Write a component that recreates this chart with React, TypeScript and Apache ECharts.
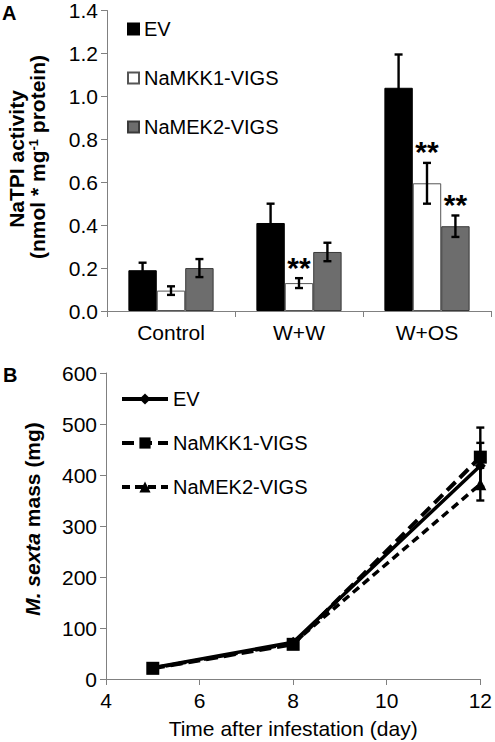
import React, { useEffect, useRef } from "react";
import * as echarts from "echarts";

// ---- Panel A data ----
const treatments = ["Control", "W+W", "W+OS"];
const barNames = ["EV", "NaMKK1-VIGS", "NaMEK2-VIGS"];
const evActivity = [0.19, 0.41, 1.04];
const evActivityErr = [0.035, 0.09, 0.155];
const mkk1Activity = [0.095, 0.13, 0.595];
const mkk1ActivityErr = [0.02, 0.023, 0.095];
const mek2Activity = [0.2, 0.275, 0.395];
const mek2ActivityErr = [0.042, 0.043, 0.05];
const mkk1Sig = ["", "**", "**"];
const mek2Sig = ["", "", "**"];
const evSig = ["", "", ""];

// ---- Panel B data ----
const days = [5, 8, 12];
const evMass = [22, 72, 418];
const evMassErr = [3, 6, 45];
const mkk1Mass = [21, 68, 435];
const mkk1MassErr = [3, 6, 58];
const mek2Mass = [21, 70, 382];
const mek2MassErr = [3, 6, 32];
const lineNames = ["EV", "NaMKK1-VIGS", "NaMEK2-VIGS"];
const lineIds = ["massEV", "massMKK1", "massMEK2"];

const FONT = "'Liberation Sans', Arial, sans-serif";
const AXIS_COLOR = "#808080";
const BAR_FRAC = 0.222;

export default function App() {
  const ref = useRef<HTMLDivElement>(null);
  useEffect(() => {
    if (!ref.current) return;
    const chart = echarts.init(ref.current, undefined, { renderer: "svg" });

    const barErr = (idx: number, means: number[], errs: number[], sig: string[]) => ({
      type: "custom",
      xAxisIndex: 0,
      yAxisIndex: 0,
      z: 10,
      silent: true,
      data: means.map((m, i) => [i, m, errs[i]]),
      encode: { x: 0, y: 1 },
      renderItem: (params: any, api: any) => {
        const i = api.value(0);
        const m = api.value(1);
        const e = api.value(2);
        const top = api.coord([i, m + e]);
        const bot = api.coord([i, m - e]);
        const band = api.size([1, 0])[0];
        const x = top[0] + (idx - 1) * band * BAR_FRAC;
        const st = { stroke: "#000", lineWidth: 2.4 };
        const children: any[] = [
          { type: "line", shape: { x1: x, y1: top[1], x2: x, y2: bot[1] }, style: st },
          { type: "line", shape: { x1: x - 4, y1: top[1], x2: x + 4, y2: top[1] }, style: st },
          { type: "line", shape: { x1: x - 4, y1: bot[1], x2: x + 4, y2: bot[1] }, style: st },
        ];
        const s = sig[params.dataIndex];
        if (s) {
          children.push({
            type: "text",
            x,
            y: top[1] - 11,
            style: {
              text: s,
              fontSize: 30,
              fontWeight: "bold",
              fontFamily: FONT,
              fill: "#000",
              align: "center",
              verticalAlign: "middle",
            },
          });
        }
        return { type: "group", children };
      },
    });

    const lineErr = (means: number[], errs: number[]) => ({
      type: "custom",
      xAxisIndex: 1,
      yAxisIndex: 1,
      z: 10,
      silent: true,
      data: means.map((m, i) => [days[i], m, errs[i]]),
      encode: { x: 0, y: 1 },
      renderItem: (params: any, api: any) => {
        const d = api.value(0);
        const m = api.value(1);
        const e = api.value(2);
        const top = api.coord([d, m + e]);
        const bot = api.coord([d, m - e]);
        const x = top[0];
        const st = { stroke: "#000", lineWidth: 2.4 };
        return {
          type: "group",
          children: [
            { type: "line", shape: { x1: x, y1: top[1], x2: x, y2: bot[1] }, style: st },
            { type: "line", shape: { x1: x - 4, y1: top[1], x2: x + 4, y2: top[1] }, style: st },
            { type: "line", shape: { x1: x - 4, y1: bot[1], x2: x + 4, y2: bot[1] }, style: st },
          ],
        };
      },
    });

    const axisLine = { lineStyle: { color: AXIS_COLOR, width: 1 } };
    const axisTick = { show: true, length: 6, lineStyle: { color: AXIS_COLOR, width: 1 } };
    const label = { color: "#000", fontSize: 21, fontFamily: FONT };

    const nameMap: Record<string, string> = {};
    lineIds.forEach((id, i) => (nameMap[id] = lineNames[i]));

    const option: any = {
      animation: false,
      textStyle: { fontFamily: FONT },
      grid: [
        { left: 107, top: 7, width: 384, height: 304 },
        { left: 106, top: 373, width: 378, height: 306 },
      ],
      xAxis: [
        {
          type: "category",
          gridIndex: 0,
          data: treatments,
          axisLine,
          axisTick,
          axisLabel: { ...label, margin: 11 },
          splitLine: { show: false },
        },
        {
          type: "value",
          gridIndex: 1,
          min: 4,
          max: 12,
          interval: 2,
          axisLine: { show: true, ...axisLine },
          axisTick,
          axisLabel: { ...label, margin: 11 },
          splitLine: { show: false },
          name: "Time after infestation (day)",
          nameLocation: "middle",
          nameGap: 39,
          nameTextStyle: { color: "#000", fontSize: 21, fontFamily: FONT, verticalAlign: "top" },
        },
      ],
      yAxis: [
        {
          type: "value",
          gridIndex: 0,
          min: 0,
          max: 1.4,
          interval: 0.2,
          axisLine: { show: true, ...axisLine },
          axisTick,
          axisLabel: { ...label, margin: 9, formatter: (v: number) => v.toFixed(1) },
          splitLine: { show: false },
        },
        {
          type: "value",
          gridIndex: 1,
          min: 0,
          max: 600,
          interval: 100,
          axisLine: { show: true, ...axisLine },
          axisTick,
          axisLabel: { ...label, margin: 9 },
          splitLine: { show: false },
        },
      ],
      legend: [
        {
          data: barNames,
          orient: "vertical",
          left: 127,
          top: 19,
          padding: 0,
          itemWidth: 11,
          itemHeight: 11,
          itemGap: 29,
          icon: "rect",
          textStyle: { color: "#000", fontSize: 20, lineHeight: 16, fontFamily: FONT },
          selectedMode: false,
        },
        {
          data: lineIds,
          orient: "vertical",
          left: 120,
          top: 389,
          padding: 0,
          itemWidth: 46,
          itemHeight: 14,
          itemGap: 24,
          formatter: (n: string) => nameMap[n] || n,
          lineStyle: { width: 4 },
          textStyle: { color: "#000", fontSize: 20, lineHeight: 16, fontFamily: FONT },
          selectedMode: false,
        },
      ],
      graphic: [
        {
          type: "text",
          left: 2,
          top: 3,
          style: { text: "A", fontSize: 20, fontWeight: "bold", fontFamily: FONT, fill: "#000" },
        },
        {
          type: "text",
          left: 3,
          top: 365,
          style: { text: "B", fontSize: 20, fontWeight: "bold", fontFamily: FONT, fill: "#000" },
        },
        {
          type: "text",
          x: 16,
          y: 159,
          rotation: Math.PI / 2,
          style: {
            text: "NaTPI activity",
            fontSize: 21,
            fontWeight: "bold",
            fontFamily: FONT,
            fill: "#000",
            align: "center",
            verticalAlign: "middle",
          },
        },
        {
          type: "text",
          x: 37,
          y: 157,
          rotation: Math.PI / 2,
          style: {
            text: "(nmol * mg{sup|-1} protein)",
            fontSize: 21,
            fontWeight: "bold",
            fontFamily: FONT,
            fill: "#000",
            align: "center",
            verticalAlign: "middle",
            rich: {
              sup: { fontSize: 13, fontWeight: "bold", fontFamily: FONT, fill: "#000", verticalAlign: "top" },
            },
          },
        },
        {
          type: "text",
          x: 32,
          y: 519,
          rotation: Math.PI / 2,
          style: {
            text: "{i|M. sexta} mass (mg)",
            fontSize: 21,
            fontWeight: "bold",
            fontFamily: FONT,
            fill: "#000",
            align: "center",
            verticalAlign: "middle",
            rich: {
              i: { fontSize: 21, fontWeight: "bold", fontStyle: "italic", fontFamily: FONT, fill: "#000" },
            },
          },
        },
      ],
      series: [
        {
          name: barNames[0],
          type: "bar",
          xAxisIndex: 0,
          yAxisIndex: 0,
          data: evActivity,
          barWidth: "22.2%",
          barGap: "0%",
          itemStyle: { color: "#000", borderColor: "#000", borderWidth: 1 },
        },
        {
          name: barNames[1],
          type: "bar",
          xAxisIndex: 0,
          yAxisIndex: 0,
          data: mkk1Activity,
          barWidth: "22.2%",
          barGap: "0%",
          itemStyle: { color: "#fff", borderColor: "#555", borderWidth: 1 },
        },
        {
          name: barNames[2],
          type: "bar",
          xAxisIndex: 0,
          yAxisIndex: 0,
          data: mek2Activity,
          barWidth: "22.2%",
          barGap: "0%",
          itemStyle: { color: "#6d6d6d", borderColor: "#3a3a3a", borderWidth: 1 },
        },
        barErr(0, evActivity, evActivityErr, evSig),
        barErr(1, mkk1Activity, mkk1ActivityErr, mkk1Sig),
        barErr(2, mek2Activity, mek2ActivityErr, mek2Sig),
        {
          name: lineIds[0],
          type: "line",
          xAxisIndex: 1,
          yAxisIndex: 1,
          data: days.map((d, i) => [d, evMass[i]]),
          symbol: "diamond",
          symbolSize: 11,
          itemStyle: { color: "#000" },
          lineStyle: { color: "#000", width: 3.5, type: "solid" },
          z: 4,
        },
        {
          name: lineIds[1],
          type: "line",
          xAxisIndex: 1,
          yAxisIndex: 1,
          data: days.map((d, i) => [d, mkk1Mass[i]]),
          symbol: "rect",
          symbolSize: 13,
          itemStyle: { color: "#000" },
          lineStyle: { color: "#000", width: 4, type: [12, 6] },
          z: 3,
        },
        {
          name: lineIds[2],
          type: "line",
          xAxisIndex: 1,
          yAxisIndex: 1,
          data: days.map((d, i) => [d, mek2Mass[i]]),
          symbol: "triangle",
          symbolSize: 12,
          itemStyle: { color: "#000" },
          lineStyle: { color: "#000", width: 3.5, type: [8, 5] },
          z: 3,
        },
        lineErr(evMass, evMassErr),
        lineErr(mkk1Mass, mkk1MassErr),
        lineErr(mek2Mass, mek2MassErr),
      ],
    };
    chart.setOption(option);
    return () => chart.dispose();
  }, []);

  return (
    <div
      ref={ref}
      style={{ position: "absolute", left: 0, top: 0, width: 495, height: 742, background: "#fff" }}
    />
  );
}
